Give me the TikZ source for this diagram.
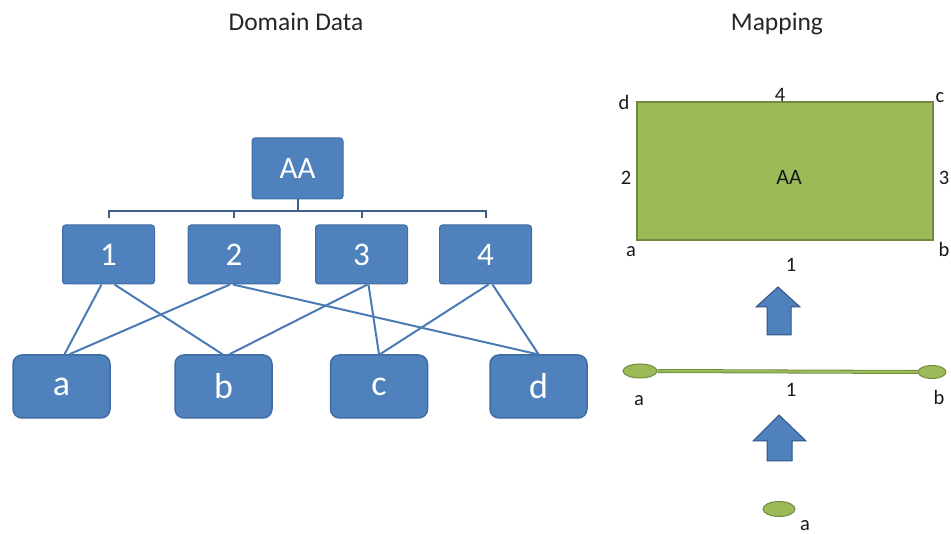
\documentclass[tikz,border=0pt]{standalone}
\usepackage{fontspec}
\setmainfont{Carlito}
\usetikzlibrary{calc,shapes.geometric}
\definecolor{boxblue}{HTML}{4F81BD}
\definecolor{boxedge}{HTML}{3E6CA3}
\definecolor{busline}{HTML}{3E5F8A}
\definecolor{linkblue}{HTML}{4A7BB5}
\definecolor{leafgreen}{HTML}{9BBB59}
\definecolor{leafedge}{HTML}{71893F}
\definecolor{arrowedge}{HTML}{2F5485}

\begin{document}
\begin{tikzpicture}[x=1pt,y=-1pt,
  title/.style={font=\fontsize{25.5}{30}\selectfont, text=black!85, inner sep=0pt, anchor=base},
  topbox/.style={draw=boxedge, fill=boxblue, line width=1pt, rounded corners=3pt,
    minimum width=91pt, minimum height=61pt, inner sep=0pt, text=white,
    font=\fontsize{31}{36}\selectfont},
  midbox/.style={topbox, minimum width=92pt, minimum height=59pt,
    font=\fontsize{33}{38}\selectfont},
  leafbox/.style={draw=boxedge, fill=boxblue, line width=1.5pt, rounded corners=9pt,
    minimum width=97pt, minimum height=63pt, inner sep=0pt, text=white,
    font=\fontsize{36}{42}\selectfont},
  bus/.style={draw=busline, line width=2pt},
  link/.style={draw=linkblue, line width=2pt},
  lbl/.style={font=\fontsize{20.5}{24}\selectfont, text=black!90, inner sep=0pt, anchor=base},
  dot/.style={ellipse, draw=leafedge, fill=leafgreen, line width=1pt, inner sep=0pt},
  uparrow/.style={draw=arrowedge, fill=boxblue, line width=1pt, line join=miter},
]
\useasboundingbox (0,0) rectangle (951,534);

% headings
\node[title] (t1) at (296,31) {Domain Data};
\node[title] (t2) at (777,31) {Mapping};

% hierarchy
\node[topbox] (AA) at (297.5,168.5) {AA};
\node[midbox] (n1) at (108.5,254.5) {1};
\node[midbox] (n2) at (234,254.5) {2};
\node[midbox] (n3) at (361.5,254.5) {3};
\node[midbox] (n4) at (485.5,254.5) {4};
\node[leafbox] (a) at (61.5,386.5) {a};
\node[leafbox] (b) at (223.5,386.5) {b};
\node[leafbox] (c) at (379,386.5) {c};
\node[leafbox] (d) at (538.5,386.5) {d};

% org-chart bus
\coordinate (bus) at (297.5,211);
\draw[bus] (AA.south) -- (bus);
\draw[bus] ($(n1.north)+(0,-6)$) |- (bus) -| ($(n4.north)+(0,-6)$);
\draw[bus] (bus -| n2) -- ($(n2.north)+(0,-6)$);
\draw[bus] (bus -| n3) -- ($(n3.north)+(0,-6)$);

% memberships
\draw[link] ([xshift=-7pt]n1.south) -- ([xshift=3pt]a.north);
\draw[link] ([xshift=6pt]n1.south) -- ([xshift=-1pt]b.north);
\draw[link] ([xshift=-4pt]n2.south) -- ([xshift=8pt]a.north);
\draw[link] ([xshift=-1pt]n2.south) -- ([xshift=-1pt]d.north);
\draw[link] ([xshift=6pt]n3.south) -- ([xshift=6pt]b.north);
\draw[link] ([xshift=7pt]n3.south) -- (c.north);
\draw[link] ([xshift=3pt]n4.south) -- ([xshift=1pt]c.north);
\draw[link] ([xshift=7pt]n4.south) -- (d.north);

% 2-cell
\node[draw=leafedge, fill=leafgreen, line width=1.2pt, minimum width=296pt,
  minimum height=138pt, inner sep=0pt] (cell) at (785,171) {};
\node[lbl, font=\fontsize{22}{26}\selectfont] (cellname) at (789,185) {AA};
\node[lbl] (vd) at (624,110) {d};
\node[lbl] (e4) at (780,102) {4};
\node[lbl] (vc) at (940,103) {c};
\node[lbl] (e2) at (626,185) {2};
\node[lbl] (e3) at (944,185) {3};
\node[lbl] (va) at (631,257) {a};
\node[lbl] (vb) at (944,257) {b};
\node[lbl] (e1) at (791,272) {1};

% arrow up to the 2-cell
\draw[uparrow] (778,287) -- (800,307) -- (791,307) -- (791,335) -- (767,335)
  -- (767,307) -- (756,307) -- cycle;

% 1-cell
\node[dot, minimum width=34pt, minimum height=14pt] (pa) at (640,371) {};
\node[dot, minimum width=28pt, minimum height=13pt] (pb) at (932,372) {};
\draw[leafedge, line width=4pt] (pa.east) -- (pb.west);
\draw[leafgreen, line width=2.4pt] (pa.east) -- (pb.west);
\node[lbl] (la) at (639,406) {a};
\node[lbl] (l1) at (791,397) {1};
\node[lbl] (lb) at (939,405) {b};

% arrow up to the 1-cell
\draw[uparrow] (779,415) -- (806,441) -- (792,441) -- (792,461) -- (767,461)
  -- (767,441) -- (753,441) -- cycle;

% 0-cell
\node[dot, minimum width=32pt, minimum height=15pt] (p0) at (779,509) {};
\node[lbl] (l0) at (805,530) {a};
\end{tikzpicture}
\end{document}
